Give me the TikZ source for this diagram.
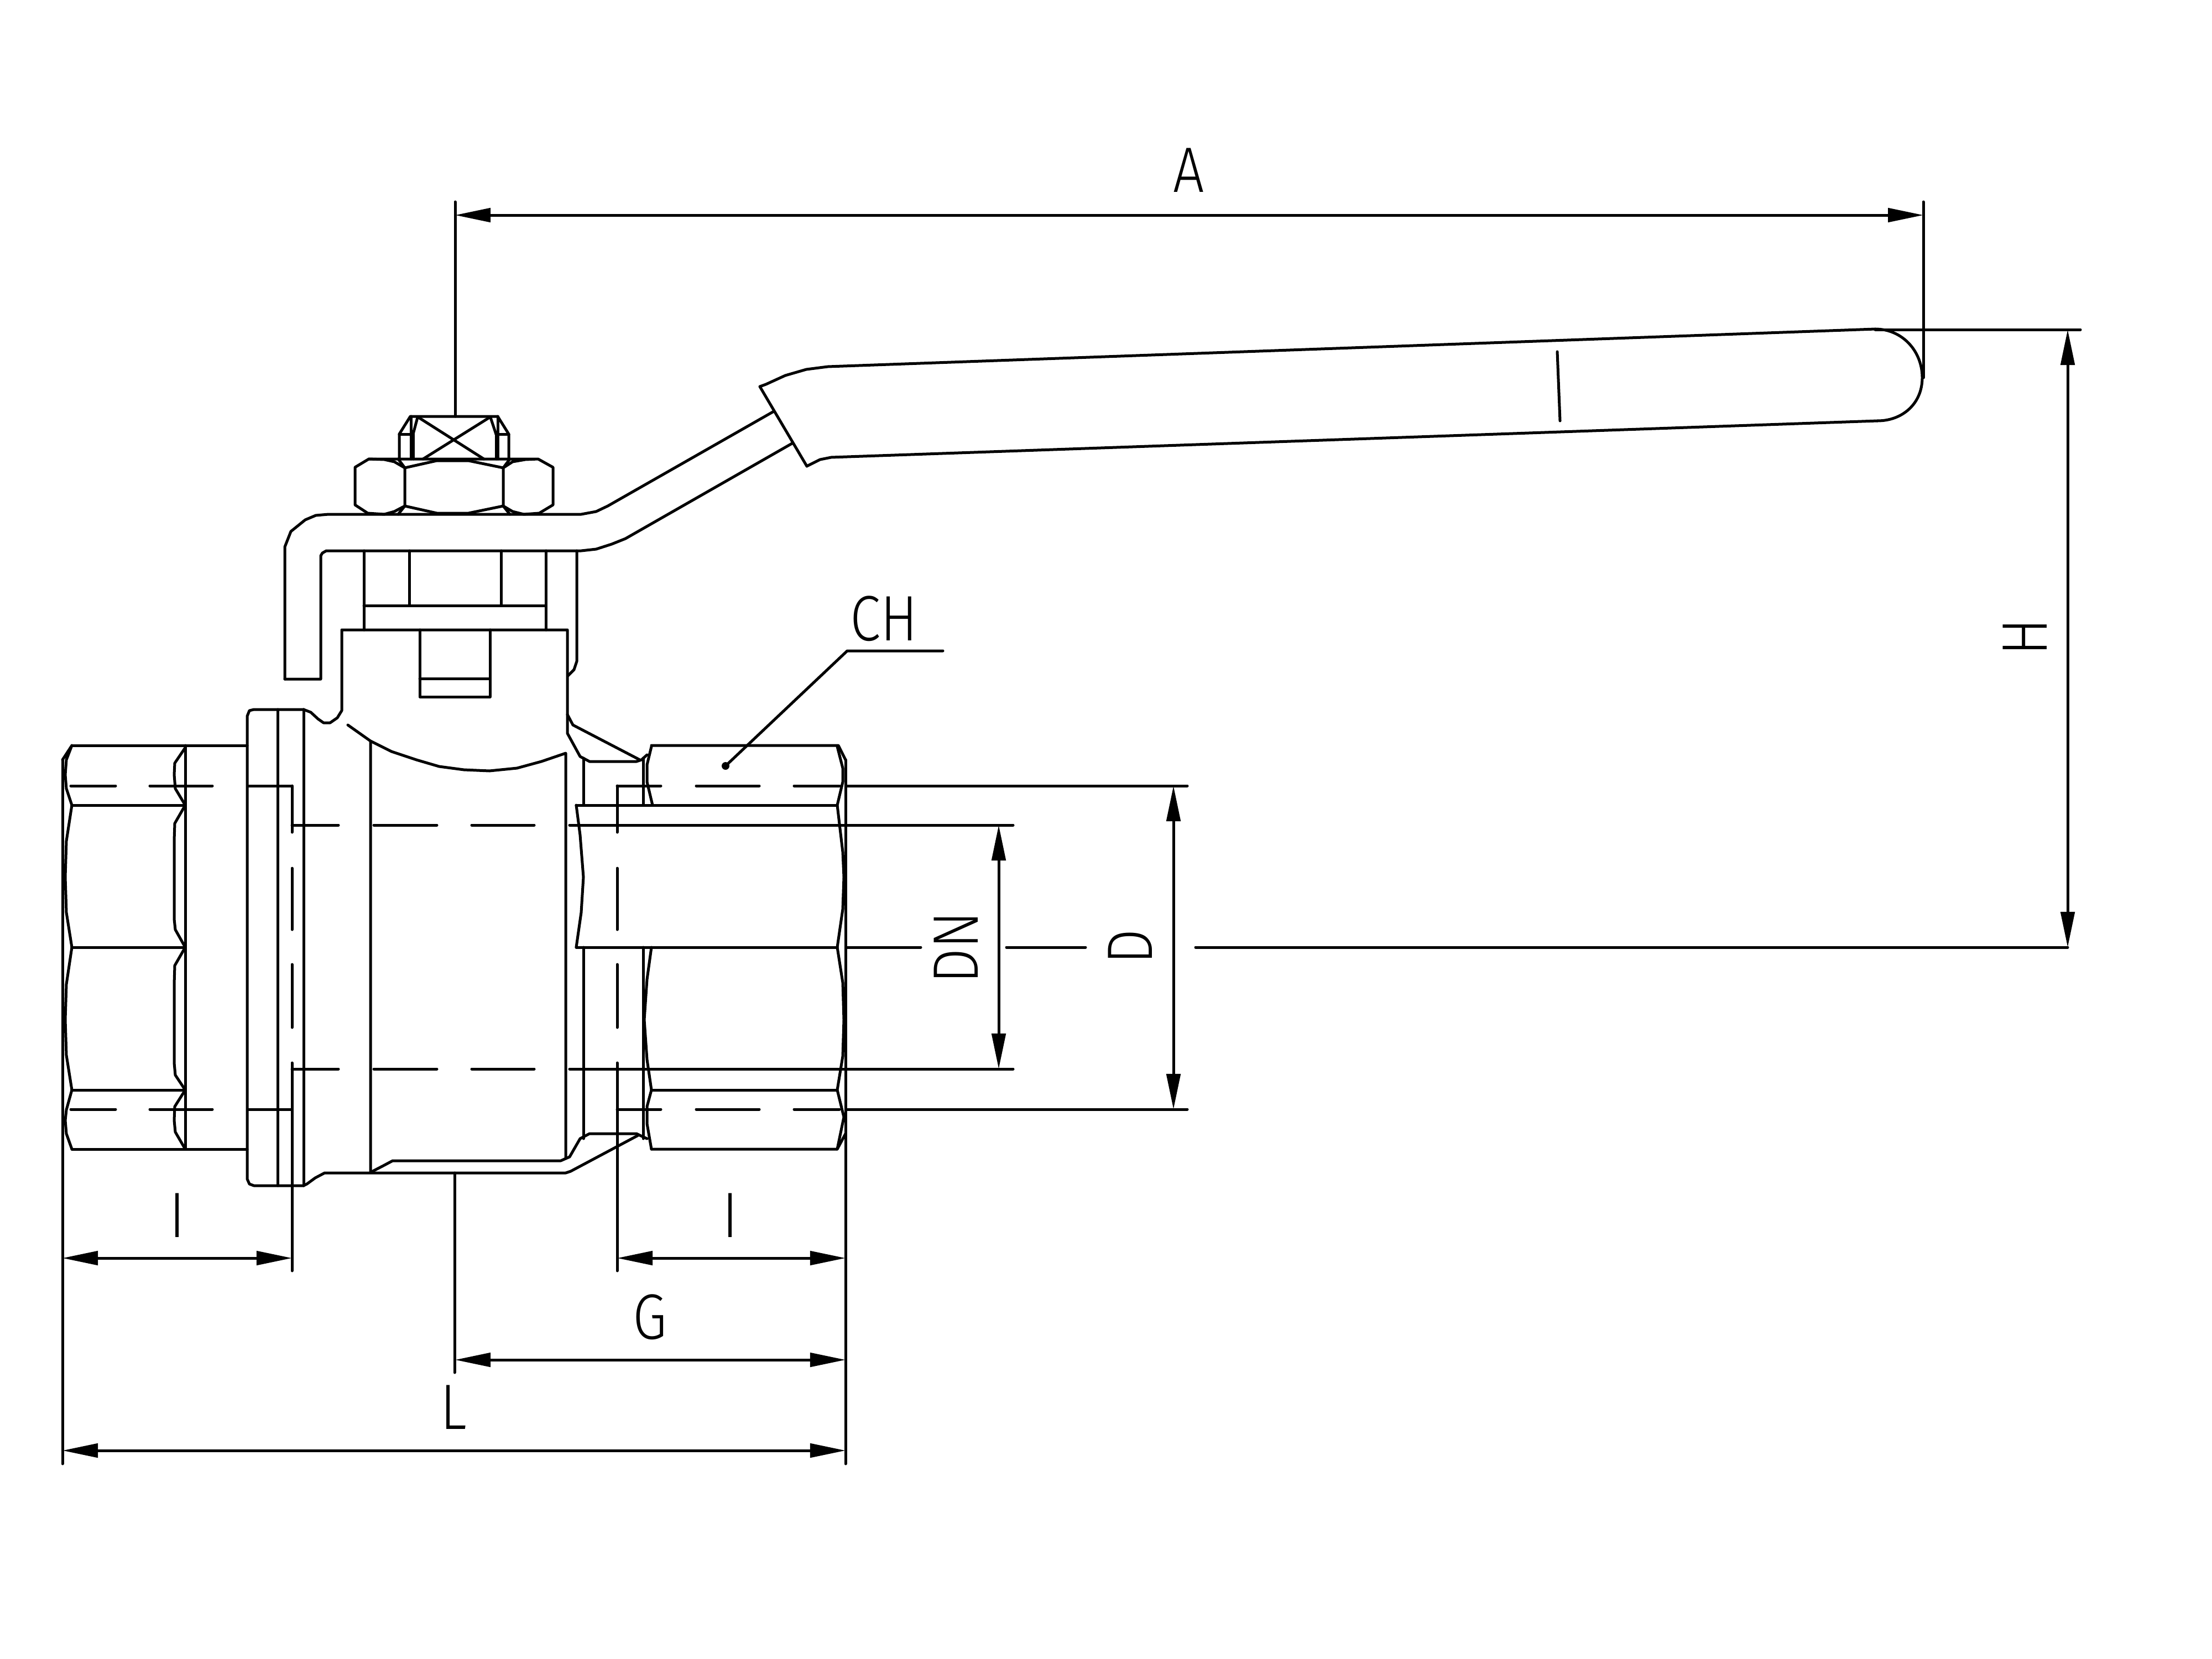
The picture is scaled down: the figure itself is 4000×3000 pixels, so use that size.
\documentclass[tikz,border=0pt]{standalone}
\usepackage{fontspec}
\usetikzlibrary{arrows.meta}
\newfontfamily\dimfont{Fira Sans Light}
\tikzset{
	part/.style={line width=.05cm, line cap=round, line join=round},
	dimline/.style={part, {Triangle[length=.64cm,width=.25cm]}-{Triangle[length=.64cm,width=.25cm]}},
	dimtext/.style={font=\fontsize{33}{33}\dimfont, inner sep=0pt, transform shape, xscale=.86},
}
\begin{document}
\begin{tikzpicture}[x=.01cm, y=-.01cm, part]
	\useasboundingbox (0,0) rectangle (4000,3000);
	\def\yhextop{1348} \def\yflatA{1456} \def\ymid{1713} \def\yflatB{1971} \def\yhexbot{2078}
	% left hexagon
	\draw (130,\yhextop)--(335,\yhextop) (335,\yhextop)--(447,\yhextop);
	\draw (130,\yhexbot)--(447,\yhexbot);
	\draw (130,\yflatA)--(335,\yflatA) (130,\ymid)--(335,\ymid) (130,\yflatB)--(335,\yflatB);
	\draw (335,\yhextop)--(335,\yhexbot);
	\draw (113,1374)--(130,\yhextop) (130,\yhextop)--(120,1374)--(118,1401)--(120,1426)--(130,\yflatA);
	\draw (130,\yflatA)--(120,1521)--(118,1586)--(120,1650)--(130,\ymid);
	\draw (130,\ymid)--(120,1780)--(118,1844)--(120,1908)--(130,\yflatB);
	\draw (130,\yflatB)--(120,2007)--(118,2026)--(120,2050)--(130,\yhexbot);
	\draw (335,1352)--(316,1380)--(315,1401)--(317,1426)--(335,\yflatA);
	\draw (335,\yflatA)--(316,1489)--(315,1520)--(315,1662)--(317,1681)--(335,\ymid);
	\draw (335,\ymid)--(316,1746)--(315,1780)--(315,1922)--(317,1944)--(335,\yflatB);
	\draw (335,\yflatB)--(316,2001)--(315,2026)--(317,2047)--(335,\yhexbot);
	% flange
	\draw (549,1283)--(459,1283)--(451,1285)--(447,1295)--(447,2132)--(451,2141)--(459,2144)--(549,2144);
	\draw (502,1283)--(502,2144) (549,1283)--(549,2144);
	% body
	\draw (549,1283)--(562,1288)--(575,1300)--(585,1307)--(597,1307)--(610,1298)--(618,1285)--(618,1139)--(1026,1139)--(1026,1326)--(1049,1368)--(1066,1377)--(1151,1377)--(1160,1374)--(1170,1365);
	\draw (1026,1292)--(1036,1311)--(1157,1374);
	\draw (629,1311)--(670,1340)--(708,1359)--(753,1374)--(794,1386)--(839,1392)--(885,1394)--(935,1389)--(979,1377)--(1023,1362)--(1023,2095);
	\draw (670,1340)--(670,2120) (670,2120)--(695,2107)--(710,2099)--(1014,2099)--(1023,2095)--(1030,2092)--(1049,2059)--(1066,2050)--(1151,2050)--(1157,2053)--(1170,2059);
	\draw (549,2144)--(555,2141)--(570,2130)--(587,2121)--(1023,2121)--(1032,2118)--(1154,2053);
	\draw (1055,1371)--(1055,1456) (1055,\ymid)--(1055,2059);
	% stem and spindle
	\draw (759,1139)--(759,1260)--(886,1260)--(886,1139) (759,1227)--(886,1227);
	\draw (658,996)--(658,1139) (987,996)--(987,1139) (740,996)--(740,1095) (906,996)--(906,1095) (658,1095)--(987,1095);
	\draw (1043,996)--(1043,1196)--(1038,1211)--(1027,1222);
	% lever
	\draw (515,1228)--(515,1007)--(515,989)--(526,961)--(552,940)--(571,932)--(594,930)--(1051,930)--(1078,925)--(1099,915)--(1399,744);
	\draw (515,1228)--(580,1228)--(580,1005)--(583,1000)--(590,996)--(1051,996)--(1078,993)--(1106,984)--(1131,974)--(1432,802);
	\draw (1374,699)--(1459,843) (1374,699)--(1385,695)--(1420,679)--(1458,668)--(1497,663)--(3391,595);
	\draw (1459,843)--(1483,831)--(1503,827)--(3395,761);
	\draw (3391,595) .. controls (3440,595) and (3476,635) .. (3476,683) .. controls (3476,730) and (3440,761) .. (3395,761);
	\draw (2816,636)--(2821,761);
	% nut
	\draw (667,830)--(973,830)--(1000,845)--(1000,913)--(975,928)--(947,930)--(927,925)--(910,915)--(910,846)--(927,835)--(950,831)--(973,830);
	\draw (667,830)--(642,845)--(642,913)--(665,928)--(695,930)--(713,925)--(732,915)--(732,846)--(713,835)--(695,831)--(667,830);
	\draw (732,846)--(790,833)--(847,833)--(910,846) (732,915)--(790,928)--(847,928)--(910,915);
	\draw (720,830)--(732,846) (922,830)--(910,846) (732,915)--(720,930) (910,915)--(922,930);
	% square head
	\draw (722,830)--(722,785)--(742,753)--(900,753)--(920,785)--(920,830);
	\draw (722,785)--(747,785) (897,785)--(920,785) (743,753)--(743,830) (747,785)--(747,830) (900,753)--(900,830) (897,785)--(897,830);
	\draw (755,755)--(747,785) (887,755)--(897,785);
	\draw (757,755)--(875,830) (885,755)--(765,830);
	% right hexagon
	\draw (1178,\yhextop)--(1516,\yhextop)--(1529,1374) (1178,\yhexbot)--(1514,\yhexbot)--(1529,2050);
	\draw (1042,\yflatA)--(1514,\yflatA) (1042,\ymid)--(1514,\ymid) (1178,\yflatB)--(1514,\yflatB);
	\draw (1042,\yflatA)--(1049,1510)--(1055,1586)--(1051,1650)--(1042,\ymid);
	\draw (1178,1350)--(1170,1383)--(1170,1414)--(1180,\yflatA);
	\draw (1178,\ymid)--(1170,1771)--(1165,1844)--(1170,1916)--(1178,\yflatB)--(1170,2001)--(1170,2032)--(1178,\yhexbot);
	\draw (1163,1371)--(1163,\yflatA) (1163,\ymid)--(1163,2059);
	\draw (1514,1350)--(1524,1389)--(1524,1414)--(1514,\yflatA)--(1524,1541)--(1526,1586)--(1524,1644)--(1514,\ymid);
	\draw (1514,\ymid)--(1524,1777)--(1526,1844)--(1524,1910)--(1514,\yflatB)--(1526,2020)--(1514,\yhexbot);
	% centre lines
	\foreach \yrow in {1421,2006}{
		\draw (128,\yrow)--(209,\yrow) (271,\yrow)--(384,\yrow) (448,\yrow)--(528,\yrow);
		\draw (1116,\yrow)--(1195,\yrow) (1259,\yrow)--(1373,\yrow) (1436,\yrow)--(1518,\yrow) (1532,\yrow)--(2147,\yrow);
	}
	\foreach \yrow in {1492,1933}{
		\draw (528,\yrow)--(612,\yrow) (676,\yrow)--(790,\yrow) (853,\yrow)--(966,\yrow) (1030,\yrow)--(1832,\yrow);
	}
	\foreach \xcol in {528,1116}{
		\draw (\xcol,1421)--(\xcol,1505) (\xcol,1570)--(\xcol,1681) (\xcol,1744)--(\xcol,1858) (\xcol,1922)--(\xcol,2298);
	}
	\draw (1532,\ymid)--(1665,\ymid) (1820,\ymid)--(1963,\ymid);
	% extension lines
	\coordinate (Aa) at (823,389); \coordinate (Ab) at (3478,389);
	\coordinate (La) at (113,2623); \coordinate (Lb) at (1529,2623);
	\coordinate (Ga) at (823,2459); \coordinate (Gb) at (1529,2459);
	\coordinate (Ia) at (113,2275); \coordinate (Ib) at (528,2275);
	\coordinate (Ic) at (1116,2275); \coordinate (Id) at (1529,2275);
	\coordinate (Da) at (2122,1421); \coordinate (Db) at (2122,2006);
	\coordinate (DNa) at (1806,1492); \coordinate (DNb) at (1806,1933);
	\coordinate (Ha) at (3739,596); \coordinate (Hb) at (3739,1713);
	\draw (823,365)--(823,753) (3478,365)--(3478,683);
	\draw (113,1374)--(113,2647) (1529,1374)--(1529,2647);
	\draw (822,2121)--(822,2482);
	\draw (3391,596)--(3762,596) (2162,\ymid)--(Hb);
	% dimensions
	\draw[dimline] (Aa)--(Ab);
	\draw[dimline] (La)--(Lb);
	\draw[dimline] (Ga)--(Gb);
	\draw[dimline] (Ia)--(Ib);
	\draw[dimline] (Ic)--(Id);
	\draw[dimline] (Da)--(Db);
	\draw[dimline] (DNa)--(DNb);
	\draw[dimline] (Ha)--(Hb);
	% leader
	\coordinate (CHdot) at (1312,1385); \coordinate (CHelbow) at (1532,1177); \coordinate (CHend) at (1705,1177);
	\fill (CHdot) circle (7);
	\draw (CHdot)--(CHelbow)--(CHend);
	% labels
	\node[dimtext] (labA) at (2150,308) {A};
	\node[dimtext] (labCH) at (1598,1119) {CH};
	\node[dimtext] (labG) at (1175,2382) {G};
	\node[dimtext] (labL) at (820,2545) {L};
	\node[dimtext] (labIa) at (321,2198) {I};
	\node[dimtext] (labIb) at (1321,2198) {I};
	\node[rotate=90,dimtext] (labH) at (3662,1152) {H};
	\node[rotate=90,dimtext] (labD) at (2044,1712) {D};
	\node[rotate=90,dimtext] (labDN) at (1729,1713) {DN};
\end{tikzpicture}
\end{document}
